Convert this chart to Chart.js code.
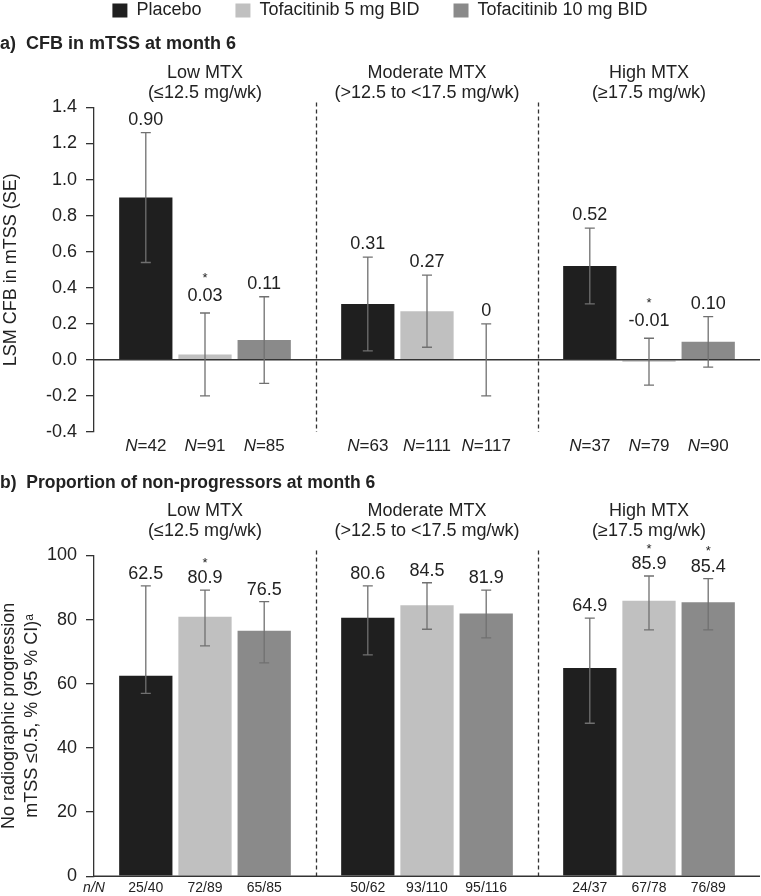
<!DOCTYPE html>
<html><head><meta charset="utf-8">
<script src="https://cdn.jsdelivr.net/npm/chart.js@4.4.1/dist/chart.umd.min.js"></script>
<style>html,body{margin:0;padding:0;background:#fff;}canvas{display:block;}</style>
</head><body>
<canvas id="ca" width="761" height="462"></canvas>
<canvas id="cb" width="761" height="434"></canvas>
<script>
// ---------- shared ----------
const groupLabels = [['Low MTX', '(≤12.5 mg/wk)'], ['Moderate MTX', '(>12.5 to <17.5 mg/wk)'], ['High MTX', '(≥17.5 mg/wk)']];
const seriesNames = ['Placebo', 'Tofacitinib 5 mg BID', 'Tofacitinib 10 mg BID'];
const seriesColors = ['#1f1f1f', '#c0c0c0', '#8a8a8a'];

// ---------- panel a: CFB in mTSS (LSM, SE) ----------
const placeboCFB = [0.90, 0.31, 0.52];
const tofa5CFB = [0.03, 0.27, -0.01];
const tofa10CFB = [0.11, 0, 0.10];
const placeboSE = [0.36, 0.26, 0.21];
const tofa5SE = [0.23, 0.20, 0.13];
const tofa10SE = [0.24, 0.20, 0.14];
const placeboN = [42, 63, 37];
const tofa5N = [91, 111, 79];
const tofa10N = [85, 117, 90];
const placeboStarA = [false, false, false];
const tofa5StarA = [true, false, true];
const tofa10StarA = [false, false, false];
const yTicksA = [-0.4, -0.2, 0.0, 0.2, 0.4, 0.6, 0.8, 1.0, 1.2, 1.4];

// ---------- panel b: non-progressors (%, 95% CI) ----------
const placeboPct = [62.5, 80.6, 64.9];
const tofa5Pct = [80.9, 84.5, 85.9];
const tofa10Pct = [76.5, 81.9, 85.4];
const placeboCILow = [57.0, 69.0, 47.7];
const placeboCIHigh = [90.5, 90.5, 80.5];
const tofa5CILow = [71.8, 77.0, 76.8];
const tofa5CIHigh = [89.2, 91.5, 93.6];
const tofa10CILow = [66.5, 74.3, 76.8];
const tofa10CIHigh = [85.6, 89.2, 92.8];
const placeboNN = ['25/40', '50/62', '24/37'];
const tofa5NN = ['72/89', '93/110', '67/78'];
const tofa10NN = ['65/85', '95/116', '76/89'];
const placeboStarB = [false, false, false];
const tofa5StarB = [true, false, true];
const tofa10StarB = [false, false, true];
const yTicksB = [0, 20, 40, 60, 80, 100];

const FONT = '"Liberation Sans", Arial, Helvetica, sans-serif';
Chart.defaults.font.family = FONT;
Chart.defaults.color = '#222';

function drawRuns(ctx, runs, cx, cy, size) {
  let total = 0;
  runs.forEach(r => { ctx.font = (r.italic ? 'italic ' : '') + size + 'px ' + FONT; r.w = ctx.measureText(r.text).width; total += r.w; });
  let x = cx - total / 2;
  ctx.textAlign = 'left';
  ctx.textBaseline = 'middle';
  runs.forEach(r => { ctx.font = (r.italic ? 'italic ' : '') + size + 'px ' + FONT; ctx.fillText(r.text, x, cy); x += r.w; });
}

function makePanel(el, p) {
  const datasets = p.values.map((vals, i) => ({
    label: seriesNames[i], data: vals, backgroundColor: seriesColors[i], borderWidth: 0,
    categoryPercentage: 0.8, barPercentage: 0.9
  }));
  const overlay = {
    id: 'overlay',
    afterDatasetsDraw(chart) {
      const ctx = chart.ctx, ys = chart.scales.y, xs = chart.scales.x, ca = chart.chartArea;
      ctx.save();
      // dashed separators between dose groups
      ctx.strokeStyle = '#333'; ctx.lineWidth = 1.3; ctx.setLineDash([4, 3]);
      for (let g = 0; g < groupLabels.length - 1; g++) {
        const x = Math.round((xs.getPixelForValue(g) + xs.getPixelForValue(g + 1)) / 2) + 0.5;
        ctx.beginPath(); ctx.moveTo(x, ca.top - 5); ctx.lineTo(x, ca.bottom); ctx.stroke();
      }
      ctx.setLineDash([]);
      // zero line
      const y0 = ys.getPixelForValue(0);
      ctx.strokeStyle = '#333'; ctx.lineWidth = 1.5;
      ctx.beginPath(); ctx.moveTo(ca.left, y0); ctx.lineTo(ca.right, y0); ctx.stroke();
      // error bars + labels
      p.values.forEach((vals, i) => {
        const meta = chart.getDatasetMeta(i);
        meta.data.forEach((bar, j) => {
          const r = p.range(i, j);
          const x = bar.x, yl = ys.getPixelForValue(r[0]), yh = ys.getPixelForValue(r[1]);
          ctx.strokeStyle = '#707070'; ctx.lineWidth = 1.3;
          ctx.beginPath();
          ctx.moveTo(x, yl); ctx.lineTo(x, yh);
          ctx.moveTo(x - 5, yl); ctx.lineTo(x + 5, yl);
          ctx.moveTo(x - 5, yh); ctx.lineTo(x + 5, yh);
          ctx.stroke();
          ctx.fillStyle = '#222';
          ctx.font = '18px ' + FONT; ctx.textAlign = 'center'; ctx.textBaseline = 'middle';
          const star = p.stars[i][j];
          const ly = yh - p.labelGap - (star ? p.starExtra : 0);
          ctx.fillText(p.fmt(vals[j]), x, ly);
          if (star) { ctx.font = '13px ' + FONT; ctx.fillText('*', x, ly - p.starGap); }
          ctx.fillStyle = '#222';
          drawRuns(ctx, p.bottom(i, j), x, ca.bottom + p.bottomGap, p.bottomSize);
        });
      });
      if (p.rowHeader) {
        ctx.fillStyle = '#222';
        drawRuns(ctx, p.rowHeader, ca.left, ca.bottom + p.bottomGap, p.bottomSize);
      }
      ctx.restore();
    }
  };
  return new Chart(el, {
    type: 'bar',
    data: { labels: groupLabels, datasets },
    options: {
      responsive: false, animation: false, devicePixelRatio: 1,
      events: [],
      layout: { padding: p.padding },
      plugins: {
        legend: p.legend,
        title: p.title,
        tooltip: { enabled: false }
      },
      scales: {
        x: {
          position: 'top',
          grid: { display: false, drawTicks: false },
          border: { display: false },
          ticks: { font: { size: 18, lineHeight: 1.1 }, color: '#222', padding: p.xTickPad, maxRotation: 0, autoSkip: false },
          afterFit: s => { s.height = p.xHeight; }
        },
        y: {
          min: p.yTicks[0], max: p.yTicks[p.yTicks.length - 1],
          afterBuildTicks: s => { s.ticks = p.yTicks.map(v => ({ value: v })); },
          ticks: { callback: v => p.tickFmt(v), font: { size: 18 }, color: '#222', padding: 9 },
          grid: { display: true, drawOnChartArea: false, drawTicks: true, tickLength: 8, color: '#333', lineWidth: 1.3 },
          border: { display: true, color: '#333', width: 1.3 },
          title: { display: true, text: p.yTitle, font: { size: 18, lineHeight: p.yTitleLH }, color: '#222', padding: { top: p.yTitlePad, bottom: 0 } },
          afterFit: s => { s.width = 94; }
        }
      }
    },
    plugins: [overlay]
  });
}

const valsA = [placeboCFB, tofa5CFB, tofa10CFB];
const seA = [placeboSE, tofa5SE, tofa10SE];
const nA = [placeboN, tofa5N, tofa10N];
makePanel(document.getElementById('ca'), {
  values: valsA,
  range: (i, j) => [valsA[i][j] - seA[i][j], valsA[i][j] + seA[i][j]],
  stars: [placeboStarA, tofa5StarA, tofa10StarA],
  fmt: v => v === 0 ? '0' : v.toFixed(2),
  tickFmt: v => v.toFixed(1),
  yTicks: yTicksA,
  bottom: (i, j) => [{ text: 'N', italic: true }, { text: '=' + nA[i][j] }],
  bottomGap: 14, bottomSize: 17,
  labelGap: 13, starGap: 18, starExtra: 4,
  padding: { top: -32.5, left: 0, right: 1, bottom: 30 },
  xHeight: 52.8, xTickPad: 4.5,
  yTitle: 'LSM CFB in mTSS (SE)', yTitleLH: 1.2, yTitlePad: 0,
  legend: {
    display: true, position: 'top', align: 'center',
    labels: { boxWidth: 15, boxHeight: 14, padding: 34, font: { size: 18 }, color: '#222' }
  },
  title: {
    display: true, text: 'a)  CFB in mTSS at month 6', align: 'start', weight: 500,
    font: { size: 18, weight: 'bold' }, color: '#222', padding: { top: 3.5, bottom: 0 }
  }
});

const valsB = [placeboPct, tofa5Pct, tofa10Pct];
const ciLowB = [placeboCILow, tofa5CILow, tofa10CILow];
const ciHighB = [placeboCIHigh, tofa5CIHigh, tofa10CIHigh];
const nnB = [placeboNN, tofa5NN, tofa10NN];
makePanel(document.getElementById('cb'), {
  values: valsB,
  range: (i, j) => [ciLowB[i][j], ciHighB[i][j]],
  stars: [placeboStarB, tofa5StarB, tofa10StarB],
  fmt: v => v.toFixed(1),
  tickFmt: v => String(v),
  yTicks: yTicksB,
  bottom: (i, j) => [{ text: nnB[i][j] }],
  rowHeader: [{ text: 'n/N', italic: true }],
  bottomGap: 12, bottomSize: 14,
  labelGap: 12, starGap: 15, starExtra: 0,
  padding: { top: 0, left: 0, right: 1, bottom: 19.3 },
  xHeight: 61.5, xTickPad: 15,
  yTitle: ['No radiographic progression', 'mTSS ≤0.5, % (95 % CI)ᵃ'], yTitleLH: 1.3, yTitlePad: -2.7,
  legend: { display: false },
  title: {
    display: true, text: 'b)  Proportion of non-progressors at month 6', align: 'start', weight: 500,
    font: { size: 17.5, weight: 'bold' }, color: '#222', padding: { top: 11, bottom: 0 }
  }
});
</script>
</body></html>
